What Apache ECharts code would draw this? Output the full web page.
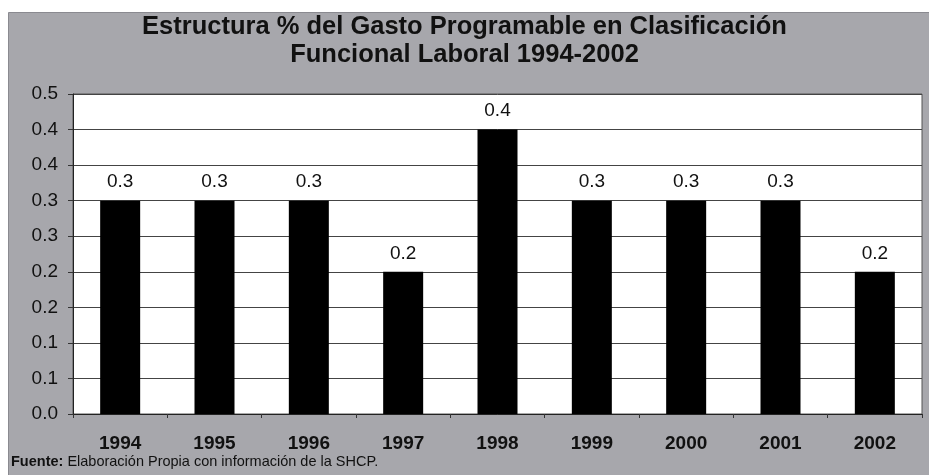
<!DOCTYPE html>
<html>
<head>
<meta charset="utf-8">
<script src="https://cdn.jsdelivr.net/npm/echarts@6/dist/echarts.min.js"></script>
<style>
html,body{margin:0;padding:0;background:#fff;}
#main{width:929px;height:475px;}
</style>
</head>
<body>
<div id="main"></div>
<script>
// datos
var years = ['1994','1995','1996','1997','1998','1999','2000','2001','2002'];
var shares = [0.3, 0.3, 0.3, 0.2, 0.4, 0.3, 0.3, 0.3, 0.2];
var yMin = 0, yMax = 0.45, yStep = 0.05;

var chart = echarts.init(document.getElementById('main'));

function oneDec(v){
  return (Math.round(v * 10 + 1e-9) / 10).toFixed(1);
}

var option = {
  backgroundColor: '#ffffff',
  animation: false,
  textStyle: { fontFamily: 'Liberation Sans, Arial, sans-serif' },
  graphic: [
    { type: 'rect', left: 8, top: 12, z: -10, silent: true,
      shape: { width: 921, height: 463 },
      style: { fill: '#a7a7ac', stroke: '#8a8a90', lineWidth: 1 } },
    { type: 'text', left: 11, top: 454, z: 10,
      style: { text: '{b|Fuente:} Elaboración Propia con información de la SHCP.',
        rich: { b: { fontWeight: 'bold', fontSize: 14.5, fill: '#111' } },
        fontSize: 14.5, fill: '#111', fontFamily: 'Liberation Sans, Arial, sans-serif' } }
  ],
  title: {
    text: 'Estructura % del Gasto Programable en Clasificación\nFuncional Laboral 1994-2002',
    left: 'center', top: 8, itemGap: 0,
    textStyle: { fontSize: 25.5, fontWeight: 'bold', color: '#111', lineHeight: 28,
      fontFamily: 'Liberation Sans, Arial, sans-serif' }
  },
  grid: { left: 73, right: 7, top: 94, bottom: 61, show: true,
    backgroundColor: '#ffffff', borderColor: '#555', borderWidth: 1 },
  xAxis: {
    type: 'category',
    data: years,
    axisLine: { lineStyle: { color: '#222' } },
    axisTick: { show: true, length: 4, lineStyle: { color: '#333' } },
    axisLabel: { fontSize: 19, fontWeight: 'bold', color: '#111', margin: 20 }
  },
  yAxis: {
    type: 'value',
    min: yMin, max: yMax, interval: yStep,
    axisLine: { show: true, lineStyle: { color: '#222' } },
    axisTick: { show: true, length: 5, lineStyle: { color: '#333' } },
    axisLabel: { fontSize: 19, color: '#111', margin: 15, formatter: oneDec },
    splitLine: { lineStyle: { color: '#444', width: 1 } }
  },
  series: [{
    type: 'bar',
    data: shares,
    barWidth: 40,
    itemStyle: { color: '#000' },
    label: { show: true, position: 'top', distance: 9, fontSize: 19, color: '#111',
      formatter: function(p){ return oneDec(p.value); } }
  }]
};
chart.setOption(option);
</script>
</body>
</html>
